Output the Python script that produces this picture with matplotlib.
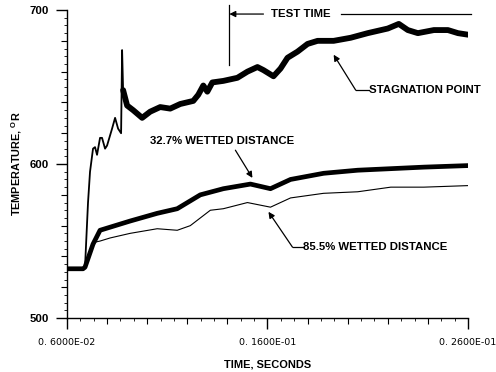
import numpy as np
import matplotlib
matplotlib.use("Agg")
import matplotlib.pyplot as plt

# datos (tiempo en s, temperatura en grados R)
t_stag = [0.00600, 0.00680, 0.00690, 0.00705, 0.00715, 0.00730, 0.00740, 0.00750,
          0.00765, 0.00775, 0.00790, 0.00800, 0.00825, 0.00840, 0.00855, 0.00870,
          0.00875, 0.00880, 0.00900, 0.00930, 0.00975, 0.01015, 0.01065, 0.01115,
          0.01165, 0.01230, 0.01255, 0.01280, 0.01300, 0.01325, 0.01380, 0.01450,
          0.01500, 0.01550, 0.01580, 0.01630, 0.01665, 0.01700, 0.01750, 0.01800,
          0.01850, 0.01930, 0.02015, 0.02100, 0.02200, 0.02255, 0.02300, 0.02350,
          0.02430, 0.02500, 0.02550, 0.02600]
T_stag = [532, 532, 533, 575, 595, 610, 611, 606,
          617, 617, 610, 612, 623, 630, 623, 620,
          674, 648, 638, 635, 630, 634, 637, 636,
          639, 641, 645, 651, 647, 653, 654, 656,
          660, 663, 661, 657, 662, 669, 673, 678,
          680, 680, 682, 685, 688, 691, 687, 685,
          687, 687, 685, 684]

t_327 = [0.00600, 0.00680, 0.00690, 0.00730, 0.00765, 0.00815, 0.00915, 0.01050,
         0.01150, 0.01265, 0.01380, 0.01515, 0.01615, 0.01715, 0.01880, 0.02050,
         0.02215, 0.02380, 0.02600]
T_327 = [532, 532, 533, 548, 557, 559, 563, 568,
         571, 580, 584, 587, 584, 590, 594, 596,
         597, 598, 599]

t_855 = [0.00600, 0.00680, 0.00690, 0.00715, 0.00730, 0.00765, 0.00815, 0.00915,
         0.01050, 0.01150, 0.01215, 0.01315, 0.01380, 0.01500, 0.01615, 0.01715,
         0.01880, 0.02050, 0.02215, 0.02380, 0.02600]
T_855 = [532, 532, 533, 544, 549, 550, 552, 555,
         558, 557, 560, 570, 571, 575, 572, 578,
         581, 582, 585, 585, 586]

x_ticks = [0.006, 0.016, 0.026]
x_ticklabels = ["0. 6000E-02", "0. 1600E-01", "0. 2600E-01"]
y_ticks = [500, 600, 700]

fam = ["Liberation Sans", "DejaVu Sans"]
bold = dict(family=fam, weight="bold", size=8.2)

fig = plt.figure(figsize=(4.96, 3.72), dpi=100)
ax = fig.add_axes([0.135, 0.145, 0.8085, 0.828])

# la parte inicial (con el pico) es fina, el resto es una banda gruesa
i_pico = t_stag.index(0.00880)
ax.plot(t_stag[:i_pico + 1], T_stag[:i_pico + 1], color="black", lw=1.3)
ax.plot(t_stag[i_pico:], T_stag[i_pico:], color="black", lw=4.2, solid_capstyle="round")
ax.plot(t_327, T_327, color="black", lw=3.4, solid_capstyle="round")
ax.plot(t_855, T_855, color="black", lw=0.8)

ax.set_xlim(0.006, 0.026)
ax.set_ylim(500, 700)
for s in ["top", "right"]:
    ax.spines[s].set_visible(False)
ax.spines["left"].set_linewidth(1.0)
ax.spines["bottom"].set_linewidth(1.0)

ax.set_xticks(x_ticks)
ax.set_xticklabels(x_ticklabels, family=["Liberation Sans Narrow", "DejaVu Sans"], size=6.8)
ax.set_xticks(np.arange(0.008, 0.0259, 0.002), minor=True)
ax.set_yticks(y_ticks)
ax.set_yticklabels([str(v) for v in y_ticks], **bold)
ax.tick_params(axis="x", which="major", pad=6)
ax.tick_params(axis="y", which="major", pad=5)
ax.set_yticks(np.arange(520, 700, 20), minor=True)
ax.tick_params(axis="both", which="major", direction="out", length=8, width=1.0)
ax.tick_params(axis="both", which="minor", direction="out", length=4, width=0.8)

# marcas pequenas
sx = ax.secondary_xaxis("bottom")
sx.set_xticks(np.arange(0.006, 0.0261, 0.002 / 3))
sx.tick_params(length=2, width=0.6, labelbottom=False)
sx.spines["bottom"].set_visible(False)
sy = ax.secondary_yaxis("left")
sy.set_yticks(np.arange(500, 701, 5))
sy.tick_params(length=2, width=0.6, labelleft=False)
sy.spines["left"].set_visible(False)

ax.set_xlabel("TIME, SECONDS", labelpad=9, family=fam, weight="bold", size=7.9)
ax.set_ylabel("TEMPERATURE, $^{\\mathregular{O}}$R", labelpad=4, family=fam,
              weight="bold", size=7.8)

# tiempo de prueba
ax.plot([0.0141, 0.0141], [664, 703], color="black", lw=0.9, clip_on=False)
ax.annotate("", xy=(0.0141, 697.4), xytext=(0.0158, 697.4),
            arrowprops=dict(arrowstyle="-|>", color="black", lw=0.9, mutation_scale=9,
                            shrinkA=0, shrinkB=0),
            annotation_clip=False)
ax.text(0.01765, 697.4, "TEST TIME", ha="center", va="center", **bold)
ax.plot([0.01965, 0.02615], [697.4, 697.4], color="black", lw=0.9, clip_on=False)

arrow = dict(arrowstyle="-|>", color="black", lw=0.9, mutation_scale=9, shrinkA=0, shrinkB=0)

ax.text(0.02105, 648, "STAGNATION POINT", ha="left", va="center", **bold)
ax.plot([0.02105, 0.0204], [648, 648], color="black", lw=0.9)
ax.annotate("", xy=(0.0193, 671), xytext=(0.0204, 648), arrowprops=arrow)

ax.text(0.01373, 612, "32.7% WETTED DISTANCE", ha="center", va="bottom", **bold)
ax.annotate("", xy=(0.01525, 591), xytext=(0.0144, 609), arrowprops=arrow)

ax.text(0.01775, 546, "85.5% WETTED DISTANCE", ha="left", va="center", **bold)
ax.plot([0.01775, 0.01725], [546, 546], color="black", lw=0.9)
ax.annotate("", xy=(0.01605, 569), xytext=(0.01725, 546), arrowprops=arrow)

fig.savefig("out.png", dpi=100)
